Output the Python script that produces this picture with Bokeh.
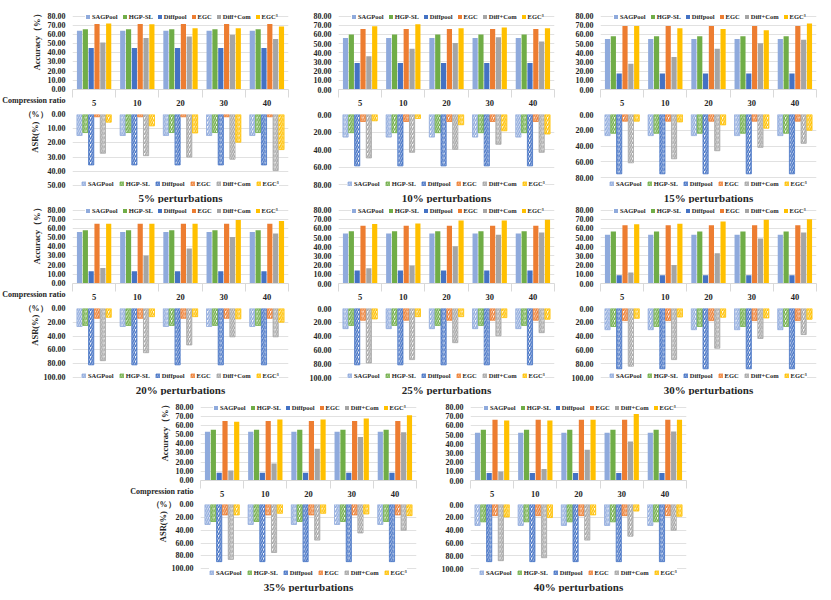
import numpy as np
from bokeh.plotting import figure
from bokeh.models import (Range1d, FixedTicker, SingleIntervalTicker, NumeralTickFormatter,
                          Legend, LegendItem, Spacer, ColumnDataSource)
from bokeh.layouts import column, row
from bokeh.embed import file_html
from bokeh.resources import INLINE

# ---------------- data ----------------
ratios = ["5", "10", "20", "30", "40"]
methods = ["SAGPool", "HGP-SL", "Diffpool", "EGC", "Diff+Com", "EGC³"]
perturbations = ["5%", "10%", "15%", "20%", "25%", "30%", "35%", "40%"]

# Accuracy (%) — constant over compression ratio for these methods (one value per perturbation level)
acc_sagpool = [64.0, 56.0, 55.0, 56.2, 54.4, 53.1, 53.0, 52.0]
acc_hgpsl = [65.7, 60.0, 58.0, 57.9, 57.0, 56.8, 55.4, 55.4]
acc_diffpool = [45.3, 29.0, 17.3, 13.4, 14.1, 9.1, 8.4, 8.1]
acc_egc = [71.3, 66.0, 69.3, 65.2, 62.9, 63.5, 64.9, 66.2]
# per compression ratio
acc_diffcom = [
    [51.3, 56.0, 57.7, 59.7, 55.0],
    [36.3, 44.3, 50.7, 57.0, 52.3],
    [28.0, 35.3, 44.3, 50.3, 54.3],
    [17.0, 30.4, 38.1, 50.8, 54.5],
    [16.5, 19.5, 40.7, 53.1, 55.5],
    [12.1, 20.2, 32.9, 49.0, 55.5],
    [10.8, 18.6, 34.5, 47.3, 52.7],
    [9.8, 12.5, 33.4, 42.6, 53.4],
]
acc_egc3 = [
    [72.0, 71.0, 66.7, 66.7, 68.7],
    [69.0, 71.0, 66.7, 67.7, 66.7],
    [69.3, 66.7, 66.0, 64.7, 72.0],
    [65.2, 65.2, 65.2, 69.2, 68.2],
    [64.9, 65.5, 68.6, 68.6, 69.6],
    [64.5, 65.2, 67.5, 69.6, 69.9],
    [63.9, 66.6, 66.6, 67.6, 71.0],
    [65.5, 65.5, 66.2, 72.6, 66.2],
]

# ASR (%)
asr_sagpool = [14.8, 25.8, 26.8, 26.0, 29.2, 30.7, 31.0, 32.5]
asr_hgpsl = [12.7, 20.8, 23.8, 24.5, 24.5, 26.0, 26.4, 26.9]
asr_diffpool = [35.5, 58.7, 75.3, 81.6, 81.6, 87.3, 88.8, 88.8]
asr_egc = [1.6, 8.0, 8.5, 14.2, 17.0, 17.5, 16.2, 17.3]
asr_diffcom = [
    [27.3, 29.0, 30.0, 31.5, 39.5],
    [49.6, 43.2, 39.8, 34.0, 43.2],
    [61.3, 56.2, 46.0, 41.7, 36.6],
    [75.5, 64.0, 52.8, 41.0, 41.0],
    [78.8, 74.0, 49.5, 39.6, 35.0],
    [83.5, 74.0, 57.5, 43.4, 37.7],
    [85.3, 74.6, 55.3, 44.2, 40.0],
    [87.3, 82.7, 55.3, 49.2, 40.0],
]
asr_egc3 = [
    [5.4, 8.0, 13.0, 19.5, 24.7],
    [7.2, 4.5, 11.7, 18.6, 22.3],
    [8.5, 9.4, 13.2, 17.4, 20.0],
    [12.7, 11.8, 11.8, 15.0, 19.8],
    [15.1, 11.8, 11.8, 13.2, 15.6],
    [14.2, 12.3, 12.7, 13.7, 15.6],
    [16.2, 13.7, 13.7, 14.7, 17.3],
    [19.3, 20.3, 16.2, 10.2, 18.3],
]

# ---------------- style ----------------
colors = ["#8FAADC", "#70AD47", "#4472C4", "#ED7D31", "#A5A5A5", "#FFC000"]
FONT = "Liberation Serif"
TXT = "#262626"
GRID = "#D9D9D9"
FRAME_W = 216
BAR_W = 0.12
OFFS = [(k - 2.5) * 0.135 for k in range(6)]
NB = "\u00a0"
TOP_MAX = 85  # accuracy axis extends a little above 80 so the legend fits inside the frame


def make_legend(items, loc, spacing):
    return Legend(items=items, orientation="horizontal", location=loc,
                  label_text_font=FONT, label_text_font_style="bold", label_text_font_size="6.5px",
                  label_text_color=TXT, glyph_width=5, glyph_height=5, label_standoff=2,
                  spacing=spacing, padding=0, margin=0, label_height=8, label_width=1,
                  border_line_color=None, background_fill_color="white",
                  background_fill_alpha=1.0)


def style_yaxis(fig, step, label=None, label_standoff=1, zero_label=None):
    ay = fig.yaxis[0]
    tk = SingleIntervalTicker(interval=step, num_minor_ticks=0)
    ay.ticker = tk
    fig.ygrid[0].ticker = tk
    ay.formatter = NumeralTickFormatter(format="0.00")
    if zero_label is not None:
        ay.major_label_overrides = {0: zero_label}
    ay.axis_line_color = None
    ay.major_tick_line_color = None
    ay.minor_tick_line_color = None
    ay.major_tick_out = 0
    ay.major_tick_in = 0
    ay.major_label_standoff = 7
    ay.major_label_text_font = FONT
    ay.major_label_text_font_style = "bold"
    ay.major_label_text_font_size = "8px"
    ay.major_label_text_color = TXT
    if label:
        ay.axis_label = label
        ay.axis_label_standoff = label_standoff
        ay.axis_label_text_font = FONT
        ay.axis_label_text_font_style = "bold"
        ay.axis_label_text_font_size = "8.5px"
        ay.axis_label_text_color = TXT
    fig.ygrid[0].grid_line_color = GRID
    fig.ygrid[0].grid_line_width = 0.8


def panel(i, bl, br, geo, asr_max, asr_step, labels):
    tb, pb, qt, qh, qb = geo
    acc = [[acc_sagpool[i]] * 5, [acc_hgpsl[i]] * 5, [acc_diffpool[i]] * 5,
           [acc_egc[i]] * 5, acc_diffcom[i], acc_egc3[i]]
    asr = [[asr_sagpool[i]] * 5, [asr_hgpsl[i]] * 5, [asr_diffpool[i]] * 5,
           [asr_egc[i]] * 5, asr_diffcom[i], asr_egc3[i]]
    xr = Range1d(-0.5, 4.5)
    W = bl + FRAME_W + br
    top_h = TOP_MAX  # 1 px per accuracy unit

    # ---- accuracy chart ----
    p = figure(width=W, height=tb + top_h + pb, x_range=xr, y_range=Range1d(0, TOP_MAX),
               min_border_left=bl, min_border_right=br, min_border_top=tb,
               min_border_bottom=pb,
               output_backend="svg", toolbar_location=None, outline_line_color=None)
    items = []
    for k in range(6):
        src = ColumnDataSource(dict(x=[j + OFFS[k] for j in range(5)], v=acc[k]))
        r = p.vbar(x="x", top="v", bottom=0, width=BAR_W, source=src,
                   fill_color=colors[k], line_color=None)
        items.append(LegendItem(label=methods[k], renderers=[r]))
    p.add_layout(make_legend(items, (13, top_h - 16), 4))
    ax = p.xaxis[0]
    ax.ticker = FixedTicker(ticks=list(range(5)), minor_ticks=[j - 0.5 for j in range(6)])
    ax.major_label_overrides = {j: ratios[j] for j in range(5)}
    ax.major_tick_line_color = None
    ax.major_tick_out = 0
    ax.major_tick_in = 0
    ax.minor_tick_in = 0
    ax.minor_tick_out = 8
    ax.minor_tick_line_color = GRID
    ax.axis_line_color = GRID
    ax.major_label_standoff = 2
    ax.major_label_text_font = FONT
    ax.major_label_text_font_style = "bold"
    ax.major_label_text_font_size = "8.5px"
    ax.major_label_text_color = TXT
    p.xgrid.visible = False
    if labels:
        style_yaxis(p, 10, NB * 10 + "Accuracy（%）", -43,
                    NB + "\n0.00\nCompression ratio")
    else:
        style_yaxis(p, 10)

    # ---- ASR chart ----
    q = figure(width=W, height=qt + qh + qb, x_range=xr, y_range=Range1d(asr_max, 0),
               x_axis_location=None, min_border_left=bl, min_border_right=br,
               min_border_top=qt, min_border_bottom=qb,
               title=perturbations[i] + " perturbations", title_location="below",
               output_backend="svg", toolbar_location=None, outline_line_color=None)
    q.title.align = "center"
    q.title.offset = -10
    q.title.standoff = 0
    q.title.text_font = FONT
    q.title.text_font_style = "bold"
    q.title.text_font_size = "11px"
    q.title.text_color = TXT
    items2 = []
    for k in range(6):
        src = ColumnDataSource(dict(x=[j + OFFS[k] for j in range(5)], v=asr[k]))
        r = q.vbar(x="x", top="v", bottom=0, width=BAR_W, source=src,
                   fill_color="white", line_color=colors[k], line_width=0.8,
                   hatch_pattern="/", hatch_color=colors[k], hatch_weight=1.5, hatch_scale=4.5)
        items2.append(LegendItem(label=methods[k], renderers=[r]))
    q.add_layout(make_legend(items2, (9, 2), 5))
    q.xgrid.visible = False
    if labels:
        style_yaxis(q, asr_step, NB * 14 + "ASR(%)", -19, "（%）" + NB * 2 + "0.00")
    else:
        style_yaxis(q, asr_step)
    return column(p, q)


# geometry per row: (top border, top-chart bottom border,
#                    ASR-chart top border, ASR frame height, ASR-chart bottom border)
G1 = (11, 12, 6, 75, 14)
G2 = (2, 12, 6, 74, 13)
G3 = (7, 12, 5, 76, 12)

row1 = row(
    panel(0, 72, 7, G1, 52.8, 10, True),
    panel(1, 43, 6, G1, 85.7, 20, False),
    panel(2, 40, 8, G1, 95.2, 20, False),
)
row2 = row(
    panel(3, 72, 7, G2, 105.7, 20, True),
    panel(4, 43, 6, G2, 105.7, 20, False),
    panel(5, 40, 8, G2, 105.7, 20, False),
)
row3 = row(
    Spacer(width=128, height=10),
    panel(6, 72, 7, G3, 115, 20, True),
    panel(7, 47, 7, G3, 115, 20, False),
)
layout = column(row1, row2, row3)

with open("out.html", "w", encoding="utf-8") as f:
    f.write(file_html(layout, INLINE, title="perturbations"))
